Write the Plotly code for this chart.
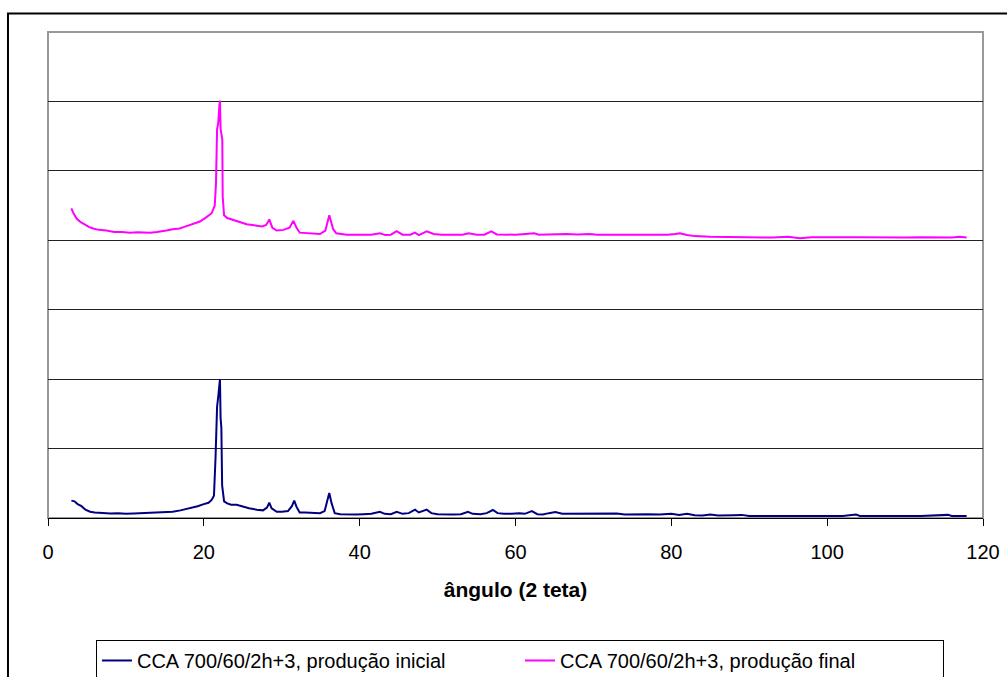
import plotly.graph_objects as go

# Series 1: CCA 700/60/2h+3, produção inicial
x_inicial = [3.0, 3.4, 3.8, 4.3, 4.8, 5.4, 6.0, 7.0, 8.0, 9.0, 10.0, 11.0, 12.0, 13.0, 14.0, 15.0,
             16.0, 17.0, 17.8, 18.5, 19.2, 20.0, 20.6, 21.0, 21.3, 21.5, 21.7, 21.85, 22.0, 22.07,
             22.15, 22.25, 22.35, 22.6, 23.0, 23.5, 24.2, 25.0, 25.8, 26.8, 27.6, 28.1, 28.4, 28.7,
             29.35, 30.0, 30.8, 31.3, 31.6, 31.9, 32.3, 33.0, 34.0, 34.9, 35.5, 35.9, 36.1, 36.4,
             36.8, 37.5, 38.5, 39.5, 40.5, 41.5, 42.6, 43.2, 44.0, 44.75, 45.5, 46.3, 47.1, 47.6,
             48.6, 49.2, 50.0, 51.0, 52.0, 53.0, 53.9, 54.5, 55.5, 56.3, 57.1, 57.7, 58.5, 59.5,
             60.5, 61.2, 62.1, 62.8, 63.5, 64.3, 65.1, 66.0, 67.0, 68.0, 69.0, 70.0, 71.0, 72.0,
             73.0, 74.0, 75.0, 76.0, 77.0, 78.5, 80.0, 81.0, 82.0, 83.0, 84.0, 85.0, 86.0, 88.0,
             89.0, 90.0, 92.0, 94.0, 96.0, 98.0, 100.0, 102.0, 103.7, 104.2, 106.0, 108.0, 110.0,
             112.0, 114.0, 115.5, 116.0, 117.9]
y_inicial = [0.25, 0.24, 0.20, 0.17, 0.12, 0.09, 0.08, 0.07, 0.065, 0.07, 0.06, 0.065, 0.07, 0.065, 0.08, 0.075,
             0.09, 0.11, 0.13, 0.15, 0.17, 0.20, 0.22, 0.26, 0.32, 0.86, 1.60, 1.75, 1.98, 2.00,
             1.44, 1.30, 0.47, 0.24, 0.21, 0.19, 0.19, 0.16, 0.14, 0.12, 0.11, 0.15, 0.22, 0.14,
             0.09, 0.09, 0.10, 0.17, 0.25, 0.16, 0.08, 0.08, 0.07, 0.07, 0.10, 0.25, 0.36, 0.21,
             0.07, 0.055, 0.05, 0.05, 0.055, 0.06, 0.09, 0.06, 0.055, 0.09, 0.06, 0.07, 0.12, 0.08,
             0.12, 0.07, 0.055, 0.05, 0.05, 0.055, 0.09, 0.06, 0.055, 0.07, 0.115, 0.07, 0.06, 0.06,
             0.07, 0.06, 0.10, 0.055, 0.05, 0.07, 0.085, 0.06, 0.06, 0.065, 0.055, 0.06, 0.055, 0.06,
             0.065, 0.05, 0.055, 0.05, 0.055, 0.05, 0.06, 0.045, 0.06, 0.04, 0.035, 0.05, 0.035, 0.04,
             0.045, 0.03, 0.03, 0.035, 0.03, 0.03, 0.035, 0.03, 0.05, 0.03, 0.03, 0.035, 0.03,
             0.03, 0.035, 0.045, 0.03, 0.03]

# Series 2: CCA 700/60/2h+3, produção final
x_final = [3.0, 3.3, 3.7, 4.2, 4.7, 5.3, 5.8, 6.5, 7.5, 8.5, 9.5, 10.5, 11.5, 12.3, 13.1, 14.0,
           14.7, 15.2, 16.0, 16.9, 17.4, 18.2, 19.1, 19.5, 20.3, 21.0, 21.4, 21.56, 21.7, 21.85,
           22.0, 22.07, 22.15, 22.3, 22.37, 22.42, 22.6, 23.0, 23.6, 24.6, 25.5, 26.8, 27.5, 28.0,
           28.4, 28.8, 29.35, 30.2, 31.0, 31.5, 31.9, 32.3, 33.2, 34.0, 34.9, 35.6, 35.9, 36.1,
           36.6, 37.0, 38.3, 39.5, 40.5, 41.5, 42.6, 43.3, 44.0, 44.75, 45.5, 46.5, 47.1, 47.6,
           48.6, 49.5, 50.5, 52.0, 53.2, 54.0, 55.0, 56.0, 56.9, 57.6, 58.5, 60.0, 61.3, 62.4,
           63.0, 64.5, 65.5, 66.5, 68.0, 69.5, 70.5, 72.0, 73.5, 75.0, 76.8, 78.0, 79.5, 80.5,
           81.1, 82.0, 83.0, 85.0, 87.0, 89.0, 91.0, 93.0, 95.0, 96.5, 98.0, 100.0, 102.0, 104.0,
           106.0, 108.0, 110.0, 112.0, 114.0, 116.0, 117.0, 117.9]
y_final = [4.46, 4.38, 4.31, 4.26, 4.23, 4.19, 4.17, 4.15, 4.14, 4.12, 4.12, 4.11, 4.115, 4.11, 4.11, 4.12,
           4.13, 4.14, 4.16, 4.17, 4.19, 4.22, 4.26, 4.27, 4.33, 4.39, 4.50, 4.82, 5.60, 5.69,
           5.95, 6.01, 5.60, 5.50, 5.45, 4.63, 4.36, 4.32, 4.30, 4.27, 4.23, 4.21, 4.20, 4.22,
           4.30, 4.18, 4.14, 4.15, 4.18, 4.28, 4.18, 4.11, 4.10, 4.10, 4.09, 4.14, 4.30, 4.36,
           4.16, 4.10, 4.08, 4.08, 4.075, 4.08, 4.10, 4.075, 4.08, 4.13, 4.08, 4.08, 4.11, 4.075,
           4.13, 4.09, 4.08, 4.075, 4.08, 4.10, 4.08, 4.08, 4.13, 4.085, 4.08, 4.08, 4.09, 4.10,
           4.08, 4.085, 4.08, 4.09, 4.085, 4.09, 4.08, 4.08, 4.07, 4.075, 4.07, 4.07, 4.08, 4.09,
           4.10, 4.075, 4.06, 4.05, 4.045, 4.05, 4.045, 4.04, 4.05, 4.03, 4.045, 4.05, 4.045, 4.045,
           4.04, 4.045, 4.04, 4.045, 4.04, 4.04, 4.05, 4.04]

series_names = ["CCA 700/60/2h+3, produção inicial", "CCA 700/60/2h+3, produção final"]
x_ticks = [0, 20, 40, 60, 80, 100, 120]
x_title = "ângulo (2 teta)"

FONT = "Liberation Sans, Arial, sans-serif"

fig = go.Figure()
fig.add_trace(go.Scatter(x=x_inicial, y=y_inicial, mode="lines", name=series_names[0],
                         line=dict(color="#000080", width=2)))
fig.add_trace(go.Scatter(x=x_final, y=y_final, mode="lines", name=series_names[1],
                         line=dict(color="#FF00FF", width=2)))

fig.update_layout(
    width=1007, height=677,
    margin=dict(l=48, r=24, t=32, b=159, autoexpand=False),
    paper_bgcolor="white", plot_bgcolor="white",
    font=dict(family=FONT, color="black"),
    showlegend=True,
    legend=dict(orientation="h", x=0.0513, y=-0.251, xanchor="left", yanchor="top",
                bordercolor="black", borderwidth=1, font=dict(size=20, family=FONT),
                bgcolor="white", entrywidth=378, entrywidthmode="pixels"),
    xaxis=dict(range=[0, 120], tickvals=x_ticks, ticks="outside", ticklen=7, tickcolor="black",
               showline=True, linecolor="black", linewidth=1, showgrid=False, zeroline=False,
               automargin=False,
               tickfont=dict(size=20, family=FONT), ticklabelstandoff=9,
               title=dict(text="<b>" + x_title + "</b>", font=dict(size=21, family=FONT), standoff=20)),
    yaxis=dict(range=[0, 7], tickvals=[1, 2, 3, 4, 5, 6], showticklabels=False, ticks="",
               showgrid=True, gridcolor="#222222", gridwidth=1, zeroline=False,
               showline=False, automargin=False),
    shapes=[
        dict(type="rect", xref="paper", yref="paper", x0=0, x1=1, y0=0, y1=1,
             line=dict(color="#999999", width=2), layer="below"),
        dict(type="rect", xref="paper", yref="paper", x0=-0.0428, x1=1.04, y0=-0.35, y1=1.038,
             line=dict(color="black", width=2), layer="below"),
    ],
)

fig.write_html("out.html", config={"displayModeBar": False},
               post_script="document.body.style.margin='0';document.body.style.overflow='hidden';")
